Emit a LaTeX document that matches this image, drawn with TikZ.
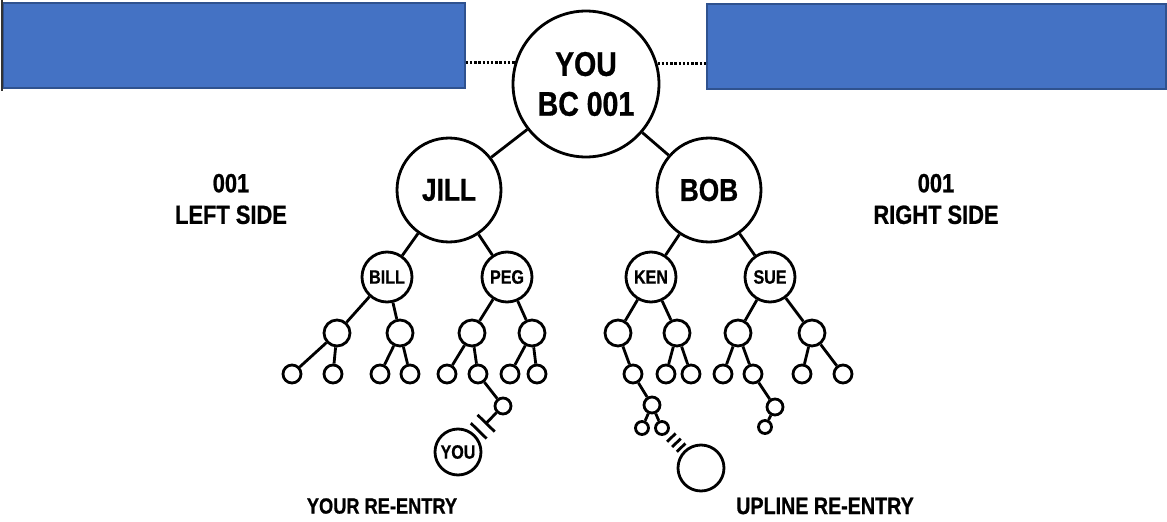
\documentclass[tikz,border=0pt]{standalone}
\usepackage{fontspec}
\newfontfamily\narrowsans[FakeStretch=0.83, BoldFeatures={FakeBold=0.8}]{Liberation Sans}
\usetikzlibrary{calc}
\definecolor{boxblue}{HTML}{4472C4}
\definecolor{boxedge}{HTML}{2F528F}
\tikzset{
	ball/.style={circle, draw, line width=1.6pt, inner sep=0pt, fill=white, font=\narrowsans\bfseries},
	topball/.style={ball, minimum size=2.92cm, align=center, font=\narrowsans\bfseries\fontsize{19.5}{22.7}\selectfont},
	legball/.style={ball, minimum size=2.08cm, font=\narrowsans\bfseries\fontsize{18}{20}\selectfont},
	kidball/.style={ball, minimum size=1.0cm, font=\narrowsans\bfseries\fontsize{11}{12}\selectfont},
	midball/.style={ball, minimum size=0.52cm},
	tinyball/.style={ball, minimum size=0.36cm},
	dotball/.style={ball, minimum size=0.32cm},
	specball/.style={ball, minimum size=0.26cm},
	reball/.style={ball, minimum size=0.92cm, font=\narrowsans\bfseries\fontsize{11}{12}\selectfont},
	bluebox/.style={draw=boxedge, line width=0.8pt, fill=boxblue, inner sep=0pt},
	sidelabel/.style={align=center, font=\narrowsans\bfseries\fontsize{15}{18}\selectfont},
	link/.style={line width=1.6pt},
	cut/.style={line width=1.6pt},
	dotline/.style={line width=1.6pt, dash pattern=on 1.4pt off 1pt},
}
\begin{document}
\begin{tikzpicture}[x=0.02cm, y=-0.02cm]
			%%%%% START %%%%%
			\useasboundingbox (0, 0) rectangle (1167, 521);
			
			\node[bluebox, minimum width=9.24cm, minimum height=1.7cm] (leftbox) at (234, 45.5) {};
			\node[bluebox, minimum width=9.18cm, minimum height=1.7cm] (rightbox) at (936.5, 46.5) {};
			\draw[line width=1pt, black!80] (leftbox.north west) ++(0, -2) -- ($(leftbox.south west)+(0, 2)$);
			
			\node[topball] (you) at (586, 84) {YOU\\BC 001};
			\draw[dotline] (leftbox.east |- you.163.3) -- (you.163.3);
			\draw[dotline] (you.16.7) -- (rightbox.west |- you.16.7);
			
			\node[legball] (jill) at (449, 190) {JILL};
			\node[legball] (bob) at (709, 190) {BOB};
			\draw[link] (you) -- (jill);
			\draw[link] (you) -- (bob);
			
			\node[kidball] (bill) at (387, 277) {BILL};
			\node[kidball] (peg) at (507, 277) {PEG};
			\node[kidball] (ken) at (651, 277) {KEN};
			\node[kidball] (sue) at (770, 277) {SUE};
			\draw[link] (jill) -- (bill);
			\draw[link] (jill) -- (peg);
			\draw[link] (bob) -- (ken);
			\draw[link] (bob) -- (sue);
			
			% third row
			\node[midball] (m1) at (337, 333) {};
			\node[midball] (m2) at (400, 333) {};
			\node[midball] (m3) at (472, 333) {};
			\node[midball] (m4) at (532, 333) {};
			\node[midball] (m5) at (618, 333) {};
			\node[midball] (m6) at (677, 333) {};
			\node[midball] (m7) at (738, 333) {};
			\node[midball] (m8) at (812, 333) {};
			\draw[link] (bill) -- (m1);
			\draw[link] (bill) -- (m2);
			\draw[link] (peg) -- (m3);
			\draw[link] (peg) -- (m4);
			\draw[link] (ken) -- (m5);
			\draw[link] (ken) -- (m6);
			\draw[link] (sue) -- (m7);
			\draw[link] (sue) -- (m8);
			
			% fourth row
			\node[tinyball] (t1) at (292, 374) {};
			\node[tinyball] (t2) at (333, 374) {};
			\node[tinyball] (t3) at (380, 374) {};
			\node[tinyball] (t4) at (410, 374) {};
			\node[tinyball] (t5) at (447, 374) {};
			\node[tinyball] (t6) at (478, 374) {};
			\node[tinyball] (t7) at (510, 374) {};
			\node[tinyball] (t8) at (537, 374) {};
			\node[tinyball] (t9) at (633, 374) {};
			\node[tinyball] (t10) at (666, 374) {};
			\node[tinyball] (t11) at (691, 374) {};
			\node[tinyball] (t12) at (723, 374) {};
			\node[tinyball] (t13) at (753, 374) {};
			\node[tinyball] (t14) at (802, 374) {};
			\node[tinyball] (t15) at (843, 374) {};
			\draw[link] (m1) -- (t1);
			\draw[link] (m1) -- (t2);
			\draw[link] (m2) -- (t3);
			\draw[link] (m2) -- (t4);
			\draw[link] (m3) -- (t5);
			\draw[link] (m3) -- (t6);
			\draw[link] (m4) -- (t7);
			\draw[link] (m4) -- (t8);
			\draw[link] (m5) -- (t9);
			\draw[link] (m6) -- (t10);
			\draw[link] (m6) -- (t11);
			\draw[link] (m7) -- (t12);
			\draw[link] (m7) -- (t13);
			\draw[link] (m8) -- (t14);
			\draw[link] (m8) -- (t15);
			
			% deeper legs
			\node[dotball] (p1) at (503, 406) {};
			\node[dotball] (p2) at (652, 405) {};
			\node[dotball] (p3) at (775, 407) {};
			\node[specball] (q1) at (642, 428) {};
			\node[specball] (q2) at (662, 428) {};
			\node[specball] (q3) at (765, 427) {};
			\draw[link] (t6) -- (p1);
			\draw[link] (t9) -- (p2);
			\draw[link] (p2) -- (q1);
			\draw[link] (p2) -- (q2);
			\draw[link] (t13) -- (p3);
			\draw[link] (p3) -- (q3);
			
			% re-entry on the left
			\node[reball] (reyou) at (458, 452) {YOU};
			\coordinate (k2) at ($(p1)!0.375!(reyou)$);
			\coordinate (k1) at ($(p1)!0.54!(reyou)$);
			\draw[link] (p1) -- (k2);
			\draw[cut] ($(k2)!0.24cm!90:(reyou)$) -- ($(k2)!0.24cm!-90:(reyou)$);
			\draw[cut] ($(k1)!0.22cm!90:(reyou)$) -- ($(k1)!0.22cm!-90:(reyou)$);
			
			% re-entry on the right
			\node[ball, minimum size=0.92cm] (reup) at (701, 468) {};
			\coordinate (r1) at ($(q2)!0.24!(reup)$);
			\coordinate (r2) at ($(q2)!0.37!(reup)$);
			\coordinate (r3) at ($(q2)!0.49!(reup)$);
			\draw[cut] ($(r1)!0.12cm!90:(reup)$) -- ($(r1)!0.12cm!-90:(reup)$);
			\draw[cut] ($(r2)!0.12cm!90:(reup)$) -- ($(r2)!0.12cm!-90:(reup)$);
			\draw[cut] ($(r3)!0.12cm!90:(reup)$) -- ($(r3)!0.12cm!-90:(reup)$);
			
			% labels
			\node[sidelabel] (lefttag) at (231, 199) {001\\LEFT SIDE};
			\node[sidelabel] (righttag) at (936, 199) {001\\RIGHT SIDE};
			\node[font=\narrowsans\bfseries\fontsize{12.5}{14}\selectfont] (yourtag) at (382, 506) {YOUR RE-ENTRY};
			\node[font=\narrowsans\bfseries\fontsize{13.5}{14}\selectfont] (uptag) at (825, 506) {UPLINE RE-ENTRY};
			%%%%% END %%%%%
\end{tikzpicture}
\end{document}
